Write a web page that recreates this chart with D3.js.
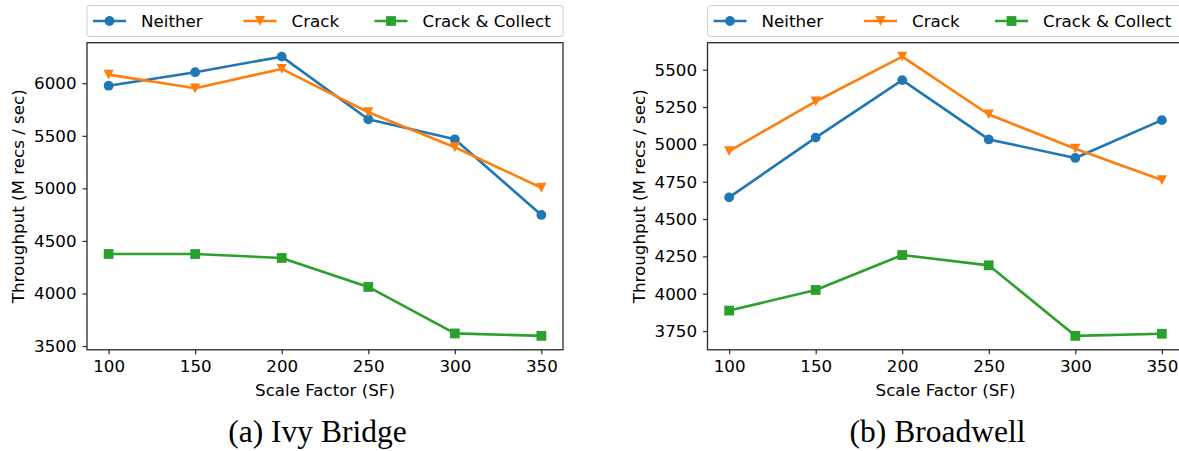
<!DOCTYPE html>
<html>
<head>
<meta charset="utf-8">
<script src="https://cdn.jsdelivr.net/npm/d3@7/dist/d3.min.js"></script>
<style>
  html, body { margin: 0; padding: 0; background: #fff; }
  svg { display: block; }
  text { font-family: "DejaVu Sans", sans-serif; fill: #000; }
  .caption { font-family: "Liberation Serif", "DejaVu Serif", serif; }
</style>
</head>
<body>
<svg id="chart" width="1179" height="451"></svg>
<script>
// Scale factors on the x axis
const scaleFactors = [100, 150, 200, 250, 300, 350];
const seriesNames = ["Neither", "Crack", "Crack & Collect"];

// Ivy Bridge throughput (M recs / sec)
const ivyNeither = [5977, 6105, 6253, 5657, 5467, 4747];
const ivyCrack   = [6082, 5952, 6136, 5724, 5391, 5006];
const ivyCollect = [4376, 4375, 4338, 4062, 3620, 3597];

// Broadwell throughput (M recs / sec)
const bdwNeither = [4645, 5045, 5430, 5033, 4909, 5162];
const bdwCrack   = [4955, 5287, 5587, 5200, 4971, 4761];
const bdwCollect = [3887, 4025, 4259, 4190, 3718, 3732];

// Tick labels
const xTickValues = [100, 150, 200, 250, 300, 350];
const ivyYTicks = [3500, 4000, 4500, 5000, 5500, 6000];
const bdwYTicks = [3750, 4000, 4250, 4500, 4750, 5000, 5250, 5500];

const captions = ["(a) Ivy Bridge", "(b) Broadwell"];
const xLabel = "Scale Factor (SF)";
const yLabel = "Throughput (M recs / sec)";

const colors = ["#1f77b4", "#ff7f0e", "#2ca02c"];
const markers = ["circle", "triangleDown", "square"];

const svg = d3.select("#chart");
const FS = 16.7;
const LW = 2.6;

// Marker drawing helpers
function markerPath(kind) {
  const h = 4.9;
  if (kind === "circle") {
    const p = d3.path();
    p.arc(0, 0, h, 0, 2 * Math.PI);
    return p.toString();
  }
  if (kind === "square") {
    return `M${-h},${-h}L${h},${-h}L${h},${h}L${-h},${h}Z`;
  }
  // downward triangle, centred on its bounding box
  return `M${-h - 0.2},${-h}L${h + 0.2},${-h}L0,${h}Z`;
}

function drawPanel(cfg) {
  const { left, right, top, bottom, series, yTicks, caption, captionX } = cfg;
  const g = svg.append("g");

  const xPad = (d3.max(scaleFactors) - d3.min(scaleFactors)) * 0.05;
  const x = d3.scaleLinear()
    .domain([d3.min(scaleFactors) - xPad, d3.max(scaleFactors) + xPad])
    .range([left, right]);

  const all = series.flat();
  const yMin = d3.min(all), yMax = d3.max(all);
  const yPad = (yMax - yMin) * 0.05;
  const y = d3.scaleLinear()
    .domain([yMin - yPad, yMax + yPad])
    .range([bottom, top]);

  // Lines and markers
  const line = d3.line().x((d, i) => x(scaleFactors[i])).y(d => y(d));
  series.forEach((vals, si) => {
    g.append("path")
      .attr("d", line(vals))
      .attr("fill", "none")
      .attr("stroke", colors[si])
      .attr("stroke-width", LW)
      .attr("stroke-linejoin", "round");
    g.selectAll(null)
      .data(vals)
      .enter()
      .append("path")
      .attr("d", markerPath(markers[si]))
      .attr("transform", (d, i) => `translate(${x(scaleFactors[i])},${y(d)})`)
      .attr("fill", colors[si]);
  });

  // Axes
  const xAxis = d3.axisBottom(x).tickValues(xTickValues).tickSize(4.5).tickPadding(6).tickFormat(d3.format("d"));
  const yAxis = d3.axisLeft(y).tickValues(yTicks).tickSize(4.5).tickPadding(6).tickFormat(d3.format("d"));

  const gx = g.append("g").attr("transform", `translate(0,${bottom})`).call(xAxis);
  const gy = g.append("g").attr("transform", `translate(${left},0)`).call(yAxis);
  [gx, gy].forEach(a => {
    a.select(".domain").remove();
    a.selectAll(".tick line").attr("stroke", "#2a2a2a").attr("stroke-width", 1.2);
    a.selectAll(".tick text").attr("font-size", FS).attr("font-family", "DejaVu Sans").attr("fill", "#000");
  });

  // Frame
  g.append("rect")
    .attr("x", left).attr("y", top)
    .attr("width", right - left).attr("height", bottom - top)
    .attr("fill", "none").attr("stroke", "#2a2a2a").attr("stroke-width", 1.3);

  // Axis labels
  g.append("text")
    .attr("x", (left + right) / 2).attr("y", bottom + 46)
    .attr("text-anchor", "middle").attr("font-size", FS)
    .text(xLabel);
  g.append("text")
    .attr("transform", `translate(${left - 63},${(top + bottom) / 2}) rotate(-90)`)
    .attr("text-anchor", "middle").attr("font-size", FS)
    .text(yLabel);

  // Caption
  g.append("text")
    .attr("class", "caption")
    .attr("x", captionX).attr("y", 442)
    .attr("text-anchor", "middle").attr("font-size", 31.5)
    .text(caption);

  // Legend above the axes, spread across its width
  const lg = g.append("g");
  lg.append("rect")
    .attr("x", left).attr("y", 5.5)
    .attr("width", right - left).attr("height", 31)
    .attr("rx", 3)
    .attr("fill", "#fff").attr("fill-opacity", 0.8)
    .attr("stroke", "#ccc").attr("stroke-width", 1);
  const itemOffsets = [6, 156.5, 287.5];
  seriesNames.forEach((name, si) => {
    const hx = left + itemOffsets[si];
    const cy = 21;
    lg.append("line")
      .attr("x1", hx).attr("x2", hx + 33)
      .attr("y1", cy).attr("y2", cy)
      .attr("stroke", colors[si]).attr("stroke-width", LW);
    lg.append("path")
      .attr("d", markerPath(markers[si]))
      .attr("transform", `translate(${hx + 16.5},${cy})`)
      .attr("fill", colors[si]);
    lg.append("text")
      .attr("x", hx + 48).attr("y", cy + 6)
      .attr("font-size", FS)
      .text(name);
  });
}

drawPanel({
  left: 87, right: 563, top: 42.7, bottom: 349.8,
  series: [ivyNeither, ivyCrack, ivyCollect],
  yTicks: ivyYTicks, caption: captions[0], captionX: 317.5
});
drawPanel({
  left: 707.5, right: 1183.5, top: 42.7, bottom: 349.8,
  series: [bdwNeither, bdwCrack, bdwCollect],
  yTicks: bdwYTicks, caption: captions[1], captionX: 937.5
});
</script>
</body>
</html>
